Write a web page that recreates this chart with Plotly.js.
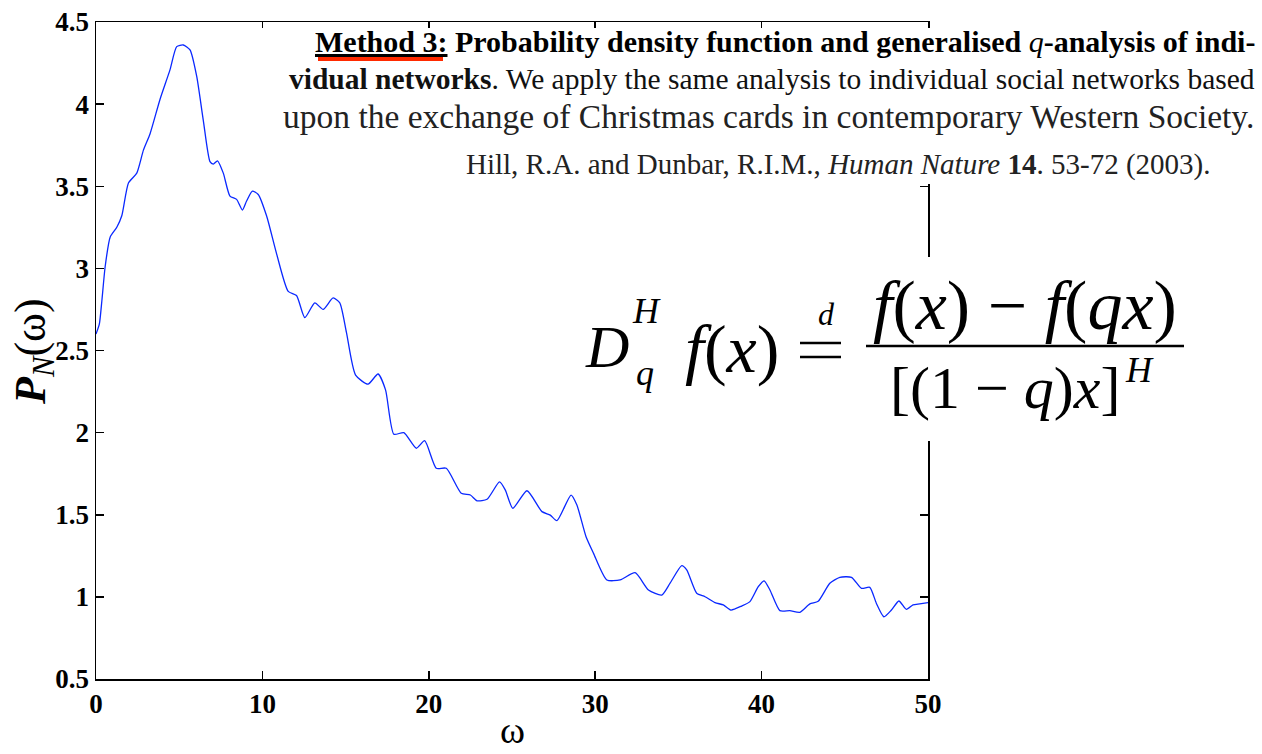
<!DOCTYPE html>
<html><head><meta charset="utf-8">
<script src="https://cdn.plot.ly/plotly-3.0.1.min.js"></script>
<style>html,body{margin:0;padding:0;background:#fff;}</style>
</head><body>
<div id="chart" style="width:1262px;height:754px;"></div>
<script>
const omega = [
  0, 0.2, 0.35, 0.55, 0.85, 1.25, 1.55, 1.95, 2.45, 2.85,
  3.25, 3.85, 4.45, 4.85, 5.25, 5.65, 6.05, 6.45, 6.85, 7.05,
  7.3, 7.65, 8.05, 8.45, 8.8, 9.05, 9.4, 9.75, 10.25, 10.85,
  11.55, 12.05, 12.55, 13.15, 13.65, 14.25, 14.65, 15.05, 15.6, 16.35,
  16.95, 17.4, 17.9, 18.5, 19.25, 19.75, 20.45, 21.05, 21.95, 22.5,
  22.9, 23.5, 24.25, 24.6, 25.05, 25.9, 26.8, 27.3, 27.7, 28.55,
  28.9, 29.45, 29.9, 30.7, 31.5, 32.4, 33.2, 34.0, 34.5, 35.2,
  35.5, 36.1, 36.6, 37.2, 37.7, 38.15, 38.8, 39.3, 39.8, 40.15,
  40.5, 41.1, 41.7, 42.3, 42.9, 43.4, 44.1, 44.7, 45.4, 46.0,
  46.5, 46.9, 47.35, 47.8, 48.25, 48.7, 49.1, 49.5, 50
];
const pdf = [
  2.60, 2.66, 2.80, 3.01, 3.19, 3.25, 3.32, 3.52, 3.58, 3.72,
  3.82, 4.03, 4.21, 4.35, 4.36, 4.33, 4.17, 3.90, 3.65, 3.635,
  3.655, 3.58, 3.44, 3.42, 3.355, 3.41, 3.47, 3.45, 3.32, 3.09,
  2.86, 2.835, 2.70, 2.79, 2.75, 2.82, 2.79, 2.61, 2.35, 2.295,
  2.357, 2.26, 1.99, 2.0, 1.905, 1.951, 1.783, 1.783, 1.631, 1.62,
  1.585, 1.594, 1.70, 1.65, 1.539, 1.646, 1.519, 1.498, 1.464, 1.62,
  1.559, 1.366, 1.265, 1.103, 1.103, 1.147, 1.042, 1.011, 1.083, 1.19,
  1.164, 1.022, 1.001, 0.965, 0.951, 0.92, 0.944, 0.971, 1.062, 1.098,
  1.042, 0.916, 0.916, 0.906, 0.957, 0.973, 1.083, 1.119, 1.119, 1.052,
  1.058, 0.96, 0.879, 0.92, 0.975, 0.924, 0.951, 0.957, 0.965
];
const xTicks = [0, 10, 20, 30, 40, 50];
const yTicks = [0.5, 1, 1.5, 2, 2.5, 3, 3.5, 4, 4.5];
const textLine1 = "<b><span style='text-decoration:underline'>Method 3:</span> Probability density function and generalised </b><i>q</i><b>-analysis of indi-</b>";
const textLine2 = "<b>vidual networks</b>. We apply the same analysis to individual social networks based";
const textLine3 = "upon the exchange of Christmas cards in contemporary Western Society.";
const textLine4 = "Hill, R.A. and Dunbar, R.I.M., <i>Human Nature</i> <b>14</b>. 53-72 (2003).";

// plot area in pixels
const L = 96, R = 928, T = 22, B = 679;
const px = x => (x - L) / (R - L);
const py = y => (B - y) / (B - T);
const serif = "Liberation Serif, Times New Roman, serif";

const trace = {
  x: omega, y: pdf, type: 'scatter', mode: 'lines',
  line: {color: 'rgb(10,40,255)', width: 1.3, shape: 'spline', smoothing: 0.6},
  hoverinfo: 'skip', showlegend: false
};

function ann(text, x, y, size, opts, color) {
  return Object.assign({
    text: text, xref: 'paper', yref: 'paper', x: px(x), y: py(y),
    xanchor: 'center', yanchor: 'middle', showarrow: false,
    font: {family: serif, size: size, color: color || '#000'}
  }, opts || {});
}

const annotations = [
  ann(textLine1, 1257, 41, 30, {xanchor: 'right'}),
  ann(textLine2, 1257, 79, 29.5, {xanchor: 'right'}, '#111'),
  ann(textLine3, 1256, 116, 33.5, {xanchor: 'right'}, '#222'),
  ann(textLine4, 1212, 164, 29, {xanchor: 'right'}, '#222'),
  // formula
  ann("<i>D</i>", 607, 347, 60),
  ann("<i>H</i>", 646, 311, 36),
  ann("<i>q</i>", 645, 373, 36),
  ann("<i>f</i>(<i>x</i>)", 732, 349, 68),
  ann("<i>d</i>", 826, 314, 32),
  ann("<i>f</i>(<i>x</i>) \u2212 <i>f</i>(<i>qx</i>)", 1025, 305, 70),
  ann("[(1 \u2212 <i>q</i>)<i>x</i>]", 1005, 388, 60),
  ann("<i>H</i>", 1139, 370, 36),
  // axis titles
  ann("<b><i>P</i></b><sub><i>N</i></sub>(\u03c9)", 33, 352, 44, {textangle: -90}),
  ann("\u03c9", 512, 753, 38, {yanchor: 'bottom'})
];

const shapes = [
  // white panels behind the overlaid text and formula
  {type: 'rect', xref: 'paper', yref: 'paper', x0: px(258), x1: px(1262), y0: py(28), y1: py(184),
   fillcolor: '#fff', line: {width: 0}, layer: 'above'},
  {type: 'rect', xref: 'paper', yref: 'paper', x0: px(580), x1: px(1196), y0: py(257), y1: py(441),
   fillcolor: '#fff', line: {width: 0}, layer: 'above'},
  // red underline
  {type: 'rect', xref: 'paper', yref: 'paper', x0: px(318), x1: px(443), y0: py(61), y1: py(57),
   fillcolor: '#ff2a00', line: {width: 0}, layer: 'above'},
  // "=" sign
  {type: 'line', xref: 'paper', yref: 'paper', x0: px(800), x1: px(841), y0: py(343), y1: py(343),
   line: {color: '#000', width: 2.5}, layer: 'above'},
  {type: 'line', xref: 'paper', yref: 'paper', x0: px(800), x1: px(841), y0: py(357), y1: py(357),
   line: {color: '#000', width: 2.5}, layer: 'above'},
  // fraction bar
  {type: 'line', xref: 'paper', yref: 'paper', x0: px(866), x1: px(1184), y0: py(346), y1: py(346),
   line: {color: '#000', width: 2.5}, layer: 'above'}
];

const axisCommon = {
  showline: true, linecolor: '#000', linewidth: 1.5, mirror: 'ticks',
  ticks: 'inside', ticklen: 8, tickwidth: 1.5, tickcolor: '#000',
  showgrid: false, zeroline: false,
  tickfont: {family: serif, size: 27, color: '#000', weight: 'bold'}
};

const layout = {
  width: 1262, height: 754, autosize: false,
  margin: {l: L, r: 1262 - R, t: T, b: 754 - B, pad: 0},
  paper_bgcolor: '#fff', plot_bgcolor: '#fff',
  xaxis: Object.assign({}, axisCommon, {range: [0, 50], tickvals: xTicks, ticktext: xTicks.map(String)}),
  yaxis: Object.assign({}, axisCommon, {range: [0.5, 4.5], tickvals: yTicks, ticktext: yTicks.map(String)}),
  annotations: annotations,
  shapes: shapes,
  showlegend: false
};

Plotly.newPlot('chart', [trace], layout, {displayModeBar: false, staticPlot: true});
</script>
</body></html>
